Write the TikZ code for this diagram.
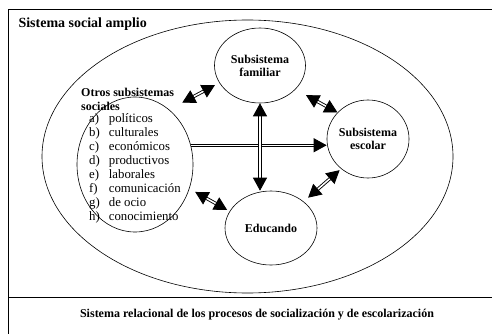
\documentclass[tikz,border=0pt]{standalone}
\usepackage{fontspec}
\setmainfont{Liberation Serif}
\usetikzlibrary{shapes.geometric,arrows.meta}
\tikzset{
  zona/.style={draw, ellipse, inner sep=0pt, line width=0.6pt},
  subsis/.style={zona, font=\bfseries\fontsize{12}{13}\selectfont, align=center},
  linea/.style={double, double distance=1.5pt, line width=0.9pt},
  biflecha/.style={linea, {Triangle[length=13pt,width=14pt]}-{Triangle[length=13pt,width=14pt]}},
  flecha/.style={linea, -{Triangle[length=13pt,width=14pt]}}
}
\begin{document}
\begin{tikzpicture}[x=1pt, y=-1pt]
      \useasboundingbox (0,0) rectangle (492,334);
      \draw[line width=0.8pt] (8,334) -- (8,9) -- (492,9);   % frame
      \draw[line width=0.8pt] (8,297) -- (492,297);
      %
      \node[zona, minimum width=411pt, minimum height=273pt] (amplio) at (247.5,156.5) {};
      \node[anchor=west, font=\bfseries\fontsize{14}{16}\selectfont] (titulo) at (15,24) {Sistema social amplio};
      %
      \node[zona, minimum width=116pt, minimum height=135pt] (otros) at (135,164.5) {};  % left ellipse
      \node[anchor=west, align=left, inner sep=1pt, font=\bfseries\fontsize{12}{14}\selectfont] (otrostxt) at (80,99) {Otros subsistemas\\sociales};
      \node[anchor=north west, inner sep=0pt, font=\fontsize{12.8}{13.9}\selectfont] (lista) at (89,113)
        {\begin{tabular}{@{}l@{\hspace{9pt}}l@{}}
          a) & políticos\\
          b) & culturales\\
          c) & económicos\\
          d) & productivos\\
          e) & laborales\\
          f) & comunicación\\
          g) & de ocio\\
          h) & conocimiento
        \end{tabular}};
      %
      \node[subsis, minimum width=91pt, minimum height=75pt] (fam) at (260,65.5) {Subsistema\\familiar};
      \node[subsis, minimum width=82pt, minimum height=78pt] (esc) at (368,139) {Subsistema\\escolar};
      \node[subsis, minimum width=92pt, minimum height=74pt] (edu) at (271,228) {Educando};
      %
      \draw[flecha] (otros.19) -- (otros.19 -| esc.west);      % horizontal
      \draw[biflecha] (fam.south) -- (fam.south |- edu.north); % vertical
      %
      \draw[biflecha, shorten <=14.7pt, shorten >=4.9pt] (otros.58) -- (fam.203);
      \draw[biflecha, shorten <=12.1pt] (fam.-34) -- (esc.139);
      \draw[biflecha, shorten <=2pt, shorten >=5.9pt] (esc.228) -- (edu.39);
      \draw[biflecha, shorten <=6.6pt, shorten >=2.9pt] (otros.-24) -- (edu.158);
      %
      \node[font=\bfseries\fontsize{12}{14}\selectfont] (pie) at (257,315) {Sistema relacional de los procesos de socialización y de escolarización};
\end{tikzpicture}
\end{document}
